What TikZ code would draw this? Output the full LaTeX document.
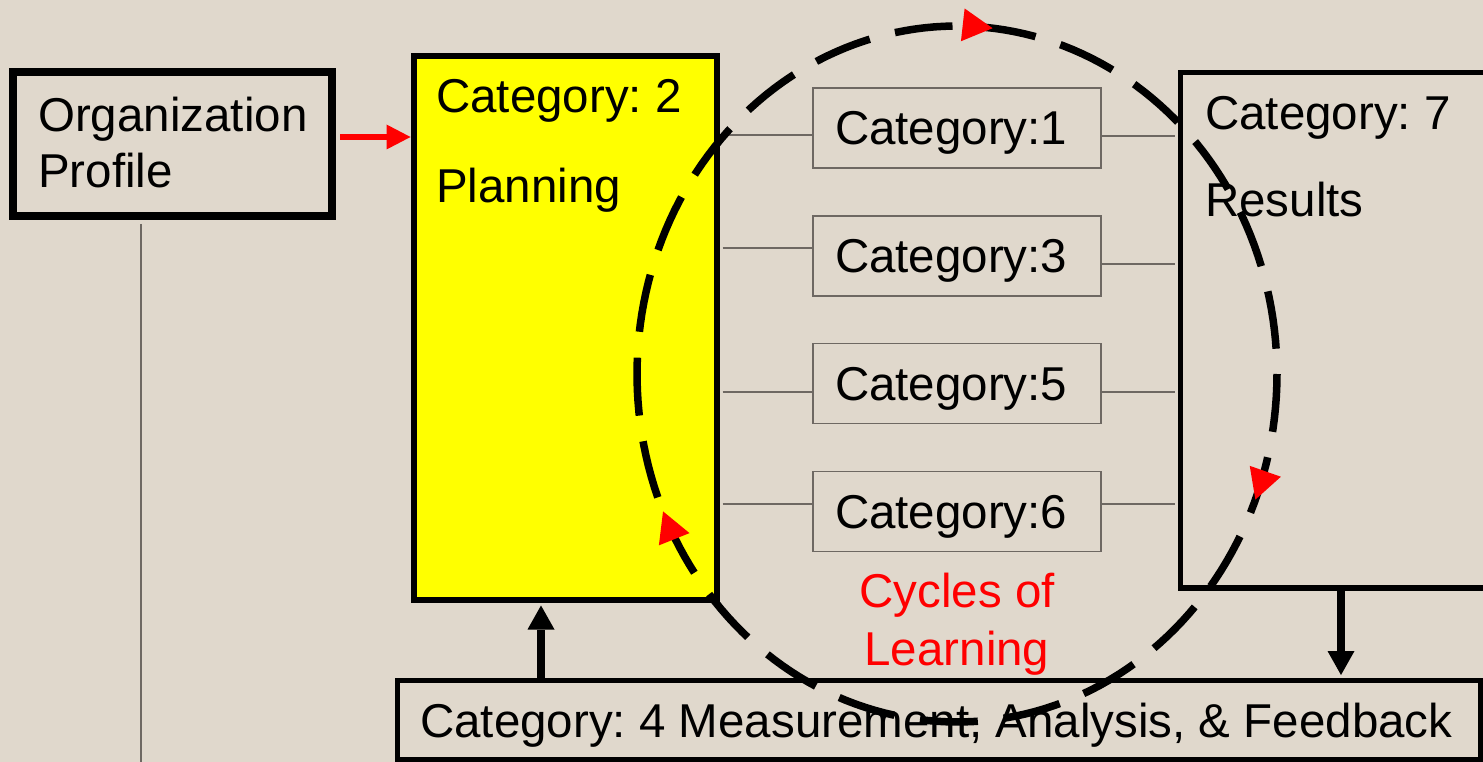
\documentclass[tikz,border=0pt]{standalone}
\usepackage{fontspec}
\setmainfont{Liberation Sans}
\frenchspacing
\usetikzlibrary{arrows.meta, decorations.markings}
\definecolor{paper}{RGB}{224,216,204}
\definecolor{rule}{RGB}{110,104,98}
\definecolor{plainyellow}{RGB}{255,255,0}
\tikzset{
	big/.style={font=\fontsize{47.5pt}{57pt}\selectfont},
	txt/.style={big, inner sep=0pt, anchor=base west},
	frame/.style={draw, rectangle, inner sep=0pt},
	catbox/.style={draw=rule, line width=1.8pt, minimum width=288pt, minimum height=80pt,
		text width=244pt, inner xsep=22pt, inner ysep=0pt, align=left, text depth=0pt, big},
	link/.style={draw=rule, line width=1.8pt},
	push/.style={-{Triangle[length=24pt, width=27pt, line width=0pt]}, line width=7.5pt},
	feed/.style={-{Triangle[length=24pt, width=25pt, line width=0pt]}, draw=red, line width=5.5pt},
	spin/.tip={Triangle[length=30pt, width=33pt, line width=0pt, color=red]},
	learnloop/.style={line width=7.5pt, dash pattern=on 58pt off 26pt, postaction={decorate},
		decoration={markings,
			mark=at position 0.061 with {\arrow{spin}},
			mark=at position 0.433 with {\arrow{spin}},
			mark=at position 0.767 with {\arrow{spin}}}}
}
\begin{document}
\begin{tikzpicture}[x=1pt, y=-1pt]
	\useasboundingbox (0,0) rectangle (1483,762);
	\fill[paper] (0,0) rectangle (1483,762);

	% outer boxes
	\node[frame, line width=8pt, minimum width=319pt, minimum height=144pt] (org) at (172.5,144) {};
	\node[txt] (orgtop) at (38,132) {Organization};
	\node[txt] (orgbot) at (38,188) {Profile};

	\node[frame, fill=plainyellow, line width=6pt, minimum width=303pt, minimum height=543.5pt] (plan) at (565,327.75) {};
	\node[txt] (plantop) at (436,113) {Category: 2};
	\node[txt] (planbot) at (436,203) {Planning};

	\node[frame, line width=5.5pt, minimum width=314.5pt, minimum height=515.5pt] (res) at (1337.75,330.25) {};
	\node[txt] (restop) at (1205,130) {Category: 7};
	\node[txt] (resbot) at (1205,217) {Results};

	\node[frame, line width=5pt, minimum width=1082.5pt, minimum height=79pt] (meas) at (938.75,719.5) {};
	\node[txt] (meastxt) at (420,737) {Category: 4 Measurement, Analysis, \& Feedback};

	% middle categories
	\foreach \n/\y/\ly/\ry in {1/128/135/136, 3/256/248/264, 5/383.5/392/392, 6/511.5/504/504}{
		\node[catbox] (cat\n) at (957,\y) {Category:\n};
		\draw[link, shorten <=3pt] (plan.east |- 0,\ly) -- (cat\n.west |- 0,\ly);
		\draw[link, shorten >=2.75pt] (cat\n.east |- 0,\ry) -- (res.west |- 0,\ry);
	}

	\node[big, text=red, inner sep=0pt, anchor=base] (cyctop) at (957,607) {Cycles of};
	\node[big, text=red, inner sep=0pt, anchor=base] (cycbot) at (957,665) {Learning};

	% connectors
	\coordinate (orgfoot) at (141,762);
	\draw[link, shorten <=4pt] (org.south -| orgfoot) -- (orgfoot);
	\coordinate (feedin) at ([yshift=7pt]org.east);
	\draw[feed, shorten <=4pt] (feedin) -- (feedin -| plan.west);
	\draw[push, shorten >=3pt] (meas.north -| 541,0) -- (plan.south -| 541,0);
	\draw[push, shorten >=2.5pt] (res.south -| 1341,0) -- (meas.north -| 1341,0);

	% cycle of learning
	\draw[learnloop] plot[domain=0:360, samples=200] ({957+320*cos(\x)}, {374+348*sin(\x)});
\end{tikzpicture}
\end{document}
